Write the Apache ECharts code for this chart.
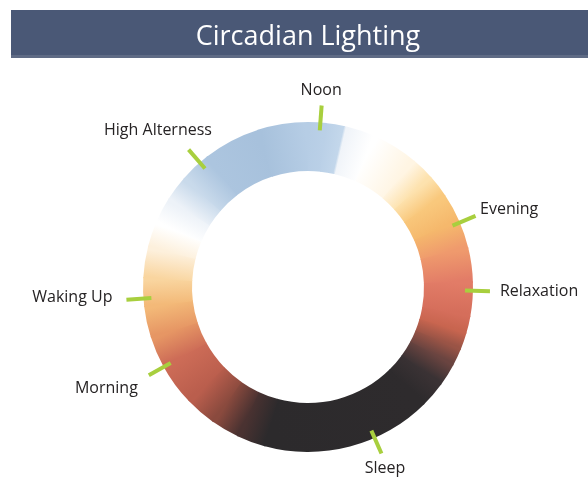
<!DOCTYPE html>
<html>
<head>
<meta charset="utf-8">
<script src="https://cdn.jsdelivr.net/npm/echarts@6/dist/echarts.min.js"></script>
<style>
html,body{margin:0;padding:0;background:#ffffff;}
#chart{width:588px;height:487px;}
</style>
</head>
<body>
<div id="chart"></div>
<script>
// ---- data ----
const titleText = 'Circadian Lighting';
// phases of the day, with the clock angle (degrees clockwise from top) of each marker
const phaseNames = ['Noon', 'Evening', 'Relaxation', 'Sleep', 'Morning', 'Waking Up', 'High Alterness'];
const phaseAngles = [4.3, 67, 91.3, 156.2, 241, 266, 319];
// colour stops of the ring (clock angle, colour)
const ringStopAngles = [0, 6, 12.5, 13.5, 24, 40, 48, 56, 66, 76, 88, 100, 106, 112, 118, 126, 135, 195, 205, 215, 226, 241, 252, 263, 273, 284, 293, 302, 311, 322, 342, 360];
const ringStopColors = ['#b6cde5', '#bad0e7', '#c3d7eb', '#f0f4f9', '#ffffff', '#fff5e3', '#fde2ae', '#f9c87c', '#f5b86c', '#ef9a6d', '#e27c67', '#d56e5b', '#c8654f', '#9a5446', '#6a4440', '#3a3234', '#2e2b2d', '#2c2a2c', '#4a3231', '#8a4a3e', '#ba5e4d', '#cd6c57', '#e69664', '#f3b978', '#f9d59f', '#fdf0dc', '#ffffff', '#edf2f8', '#c9daeb', '#acc5df', '#a7c1dc', '#b6cde5'];

// ---- layout / style (not data) ----
const CENTER = [308, 287];
const RING_INNER = 116, RING_OUTER = 165;
const TICK_IN = 157, TICK_OUT = 182;
const labelLayout = {
  'Noon':           {dx: -0.5, dy: -15.5, align: 'center'},
  'Evening':        {dx: 4.5,  dy: -6,    align: 'left'},
  'Relaxation':     {dx: 10,   dy: 0,     align: 'left'},
  'Sleep':          {dx: 3.6,  dy: 14.5,  align: 'center'},
  'Morning':        {dx: -11,  dy: 13,    align: 'right'},
  'Waking Up':      {dx: -14,  dy: -2,    align: 'right'},
  'High Alterness': {dx: -30.6,dy: -19.6, align: 'center'}
};

const segments = ringStopAngles.slice(0, -1).map((a, i) => [a, ringStopAngles[i + 1], i]);
const markers = phaseAngles.map((a, i) => ({name: phaseNames[i], value: [a, i]}));

const chart = echarts.init(document.getElementById('chart'), null, {renderer: 'canvas'});

function renderRing(params, api) {
  const a0 = api.value(0), a1 = api.value(1), i = api.value(2);
  const cx = params.coordSys.cx, cy = params.coordSys.cy;
  const pr = v => { const p = api.coord([v, 0]); return Math.hypot(p[0] - cx, p[1] - cy); };
  const mid = (RING_INNER + RING_OUTER) / 2;
  const pa = api.coord([mid, a0]), pb = api.coord([mid, a1]);
  const fill = new echarts.graphic.LinearGradient(pa[0], pa[1], pb[0], pb[1], [
    {offset: 0, color: ringStopColors[i]},
    {offset: 1, color: ringStopColors[i + 1]}
  ], true);
  const last = i === segments.length - 1;
  return {
    type: 'sector',
    silent: true,
    shape: {
      cx: cx, cy: cy, r0: pr(RING_INNER), r: pr(RING_OUTER),
      startAngle: (a0 - 90) * Math.PI / 180,
      endAngle: (a1 + (last ? 0 : 0.5) - 90) * Math.PI / 180,
      clockwise: true
    },
    style: {fill: fill}
  };
}

function renderMarker(params, api) {
  const a = api.value(0), i = api.value(1);
  const name = phaseNames[i];
  const p0 = api.coord([TICK_IN, a]), p1 = api.coord([TICK_OUT, a]);
  const lay = labelLayout[name];
  return {
    type: 'group',
    children: [
      {type: 'line', shape: {x1: p0[0], y1: p0[1], x2: p1[0], y2: p1[1]},
       style: {stroke: '#a8cf3e', lineWidth: 4, lineCap: 'butt'}},
      {type: 'text', style: {text: name, x: p1[0] + lay.dx, y: p1[1] + lay.dy,
        align: lay.align, verticalAlign: 'middle', fill: '#262324',
        font: '16px "Open Sans"'}}
    ]
  };
}

chart.setOption({
  animation: false,
  backgroundColor: '#ffffff',
  polar: {center: CENTER, radius: 200},
  angleAxis: {type: 'value', min: 0, max: 360, startAngle: 90, clockwise: true, show: false},
  radiusAxis: {type: 'value', min: 0, max: 200, show: false},
  graphic: [
    {type: 'rect', shape: {x: 11, y: 10, width: 577, height: 48}, style: {fill: '#4a5876'}, z: 0},
    {type: 'rect', shape: {x: 11, y: 55, width: 577, height: 3}, style: {fill: '#5f6b85'}, z: 1},
    {type: 'text', style: {text: titleText, x: 308, y: 37, align: 'center', verticalAlign: 'middle',
      fill: '#ffffff', font: '27px "Open Sans"'}, z: 2}
  ],
  series: [
    {type: 'custom', coordinateSystem: 'polar', renderItem: renderRing, data: segments, silent: true},
    {type: 'custom', coordinateSystem: 'polar', renderItem: renderMarker, data: markers, silent: true, z: 3}
  ]
});
</script>
</body>
</html>
